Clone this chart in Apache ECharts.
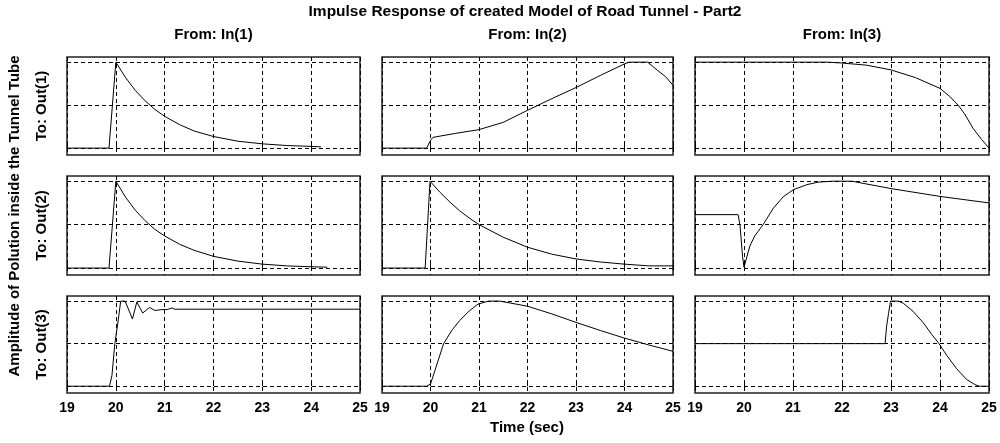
<!DOCTYPE html>
<html>
<head>
<meta charset="utf-8">
<script src="https://cdn.jsdelivr.net/npm/echarts@6/dist/echarts.min.js"></script>
<style>
html,body{margin:0;padding:0;background:#fff;}
#chart{width:1000px;height:443px;}
</style>
</head>
<body>
<div id="chart"></div>
<script>
// ---- Text ----
const chartTitle = 'Impulse Response of created Model of Road Tunnel - Part2';
const inputNames = ['From: In(1)', 'From: In(2)', 'From: In(3)'];
const outputNames = ['To: Out(1)', 'To: Out(2)', 'To: Out(3)'];
const yAxisTitle = 'Amplitude of Polution inside the Tunnel Tube';
const xAxisTitle = 'Time (sec)';
const xTicks = [19, 20, 21, 22, 23, 24, 25];
const gridLevels = [0, 1, 2];

// ---- Data (time in sec, amplitude in normalised units) ----
// Out(1)
const t11 = [19, 19.86, 20.0, 20.2, 20.4, 20.6, 20.8, 21.0, 21.3, 21.6, 22.0, 22.5, 23.0, 23.5, 24.0, 24.2];
const v11 = [0, 0, 2.0, 1.64, 1.34, 1.10, 0.90, 0.74, 0.55, 0.40, 0.27, 0.16, 0.10, 0.06, 0.04, 0.03];
const t12 = [19, 19.92, 20.0, 20.05, 20.5, 21.0, 21.5, 22.0, 22.5, 23.0, 23.5, 24.0, 24.1, 24.48, 24.68, 24.85, 25.0];
const v12 = [0, 0, 0.18, 0.25, 0.34, 0.43, 0.60, 0.88, 1.15, 1.41, 1.69, 1.96, 2.0, 2.0, 1.81, 1.66, 1.46];
const t13 = [19, 21.7, 22.0, 22.5, 23.0, 23.5, 24.0, 24.2, 24.37, 24.5, 24.68, 24.85, 25.0];
const v13 = [2, 2, 1.98, 1.93, 1.82, 1.64, 1.39, 1.2, 1.0, 0.8, 0.45, 0.2, 0.0];
// Out(2)
const t21 = [19, 19.86, 20.0, 20.2, 20.4, 20.6, 20.8, 21.0, 21.3, 21.6, 22.0, 22.5, 23.0, 23.5, 24.0, 24.33];
const v21 = [0, 0, 2.0, 1.63, 1.33, 1.09, 0.89, 0.74, 0.55, 0.41, 0.27, 0.16, 0.09, 0.05, 0.03, 0.02];
const t22 = [19, 19.89, 19.99, 20.2, 20.4, 20.6, 20.8, 21.0, 21.5, 22.0, 22.5, 23.0, 23.5, 24.0, 24.5, 25.0];
const v22 = [0, 0, 2.0, 1.74, 1.52, 1.32, 1.15, 1.0, 0.71, 0.48, 0.32, 0.21, 0.14, 0.09, 0.05, 0.05];
const t23 = [19, 19.88, 19.92, 19.97, 20.0, 20.12, 20.22, 20.39, 20.6, 20.8, 21.0, 21.28, 21.52, 21.8, 22.2, 23.0, 24.0, 25.0];
const v23 = [1.23, 1.23, 0.97, 0.27, 0.02, 0.51, 0.74, 1.0, 1.38, 1.64, 1.80, 1.92, 1.98, 2.0, 2.0, 1.83, 1.65, 1.50];
// Out(3)
const t31 = [19, 19.87, 19.92, 19.98, 20.05, 20.10, 20.19, 20.34, 20.43, 20.55, 20.69, 20.80, 20.94, 21.05, 21.15, 21.2, 25];
const v31 = [0, 0, 0.25, 1.0, 1.56, 2.0, 2.0, 1.58, 1.98, 1.72, 1.85, 1.78, 1.80, 1.80, 1.84, 1.81, 1.81];
const t32 = [19, 19.92, 20.0, 20.1, 20.27, 20.45, 20.6, 20.8, 20.98, 21.2, 21.43, 22.0, 22.5, 23.0, 23.5, 24.0, 24.5, 25.0];
const v32 = [0, 0, 0.05, 0.40, 1.0, 1.33, 1.54, 1.77, 1.93, 2.0, 2.0, 1.88, 1.70, 1.50, 1.31, 1.13, 0.97, 0.82];
const t33 = [19, 22.88, 22.91, 22.95, 22.99, 23.15, 23.25, 23.45, 23.66, 23.83, 23.98, 24.14, 24.34, 24.54, 24.71, 24.8, 25.0];
const v33 = [1, 1, 1.41, 1.71, 2.0, 2.0, 1.95, 1.76, 1.49, 1.22, 1.0, 0.72, 0.41, 0.16, 0.04, 0, 0];

const panels = [
  [t11, v11], [t12, v12], [t13, v13],
  [t21, v21], [t22, v22], [t23, v23],
  [t31, v31], [t32, v32], [t33, v33]
];

// ---- Layout ----
const colLeft = [67, 382, 695];
const colWidth = [293, 291, 294];
const rowTop = [57, 176, 296];
const rowHeight = [98, 99, 97];
const FONT = 'Liberation Sans, Arial, sans-serif';
const dashed = [4, 3];

const grid = [], xAxis = [], yAxis = [], series = [];
for (let r = 0; r < 3; r++) {
  for (let c = 0; c < 3; c++) {
    const i = r * 3 + c;
    grid.push({
      left: colLeft[c], top: rowTop[r], width: colWidth[c], height: rowHeight[r],
      show: true, borderColor: '#222', borderWidth: 1.5, backgroundColor: 'transparent',
      containLabel: false
    });
    xAxis.push({
      gridIndex: i, type: 'value', min: xTicks[0], max: xTicks[xTicks.length - 1], interval: 1,
      position: 'bottom',
      axisLine: { show: false },
      axisTick: { show: true, inside: true, length: 4, lineStyle: { color: '#000' } },
      axisLabel: { show: r === 2, color: '#000', fontFamily: FONT, fontWeight: 'bold', fontSize: 14, margin: 8,
        showMinLabel: true, showMaxLabel: true },
      splitLine: { show: true, lineStyle: { color: '#000', width: 1, type: dashed } }
    });
    xAxis.push({
      gridIndex: i, type: 'value', min: xTicks[0], max: xTicks[xTicks.length - 1], interval: 1,
      position: 'top',
      axisLine: { show: false },
      axisTick: { show: true, inside: true, length: 4, lineStyle: { color: '#000' } },
      axisLabel: { show: false },
      splitLine: { show: false }
    });
    yAxis.push({
      gridIndex: i, type: 'value', min: -0.16, max: 2.12,
      axisLine: { show: false }, axisTick: { show: false }, axisLabel: { show: false },
      splitLine: { show: false }
    });
    const [tt, vv] = panels[i];
    series.push({
      type: 'line', xAxisIndex: 2 * i, yAxisIndex: i,
      data: tt.map((t, k) => [t, vv[k]]),
      showSymbol: false, symbol: 'none',
      lineStyle: { color: '#000', width: 1 },
      z: 3,
      markLine: {
        silent: true, symbol: 'none', animation: false,
        label: { show: false },
        lineStyle: { color: '#000', width: 1, type: dashed },
        data: gridLevels.map(g => ({ yAxis: g }))
      }
    });
  }
}

const graphic = [];
const txt = (text, x, y, opts = {}) => ({
  type: 'text', x, y, rotation: opts.rotation || 0,
  style: { text, fill: '#000', font: 'bold ' + (opts.size || 15) + 'px ' + FONT,
    textAlign: 'center', textVerticalAlign: 'middle' }
});
graphic.push(txt(chartTitle, 525, 12, { size: 15.5 }));
inputNames.forEach((n, c) => graphic.push(txt(n, colLeft[c] + colWidth[c] / 2, 35)));
outputNames.forEach((n, r) => graphic.push(txt(n, 42, rowTop[r] + rowHeight[r] / 2, { rotation: Math.PI / 2 })));
graphic.push(txt(yAxisTitle, 15, 216, { rotation: Math.PI / 2 }));
graphic.push(txt(xAxisTitle, 527, 428));

const chart = echarts.init(document.getElementById('chart'), null, { renderer: 'canvas' });
chart.setOption({
  backgroundColor: '#fff',
  animation: false,
  grid, xAxis, yAxis, series, graphic
});
</script>
</body>
</html>
